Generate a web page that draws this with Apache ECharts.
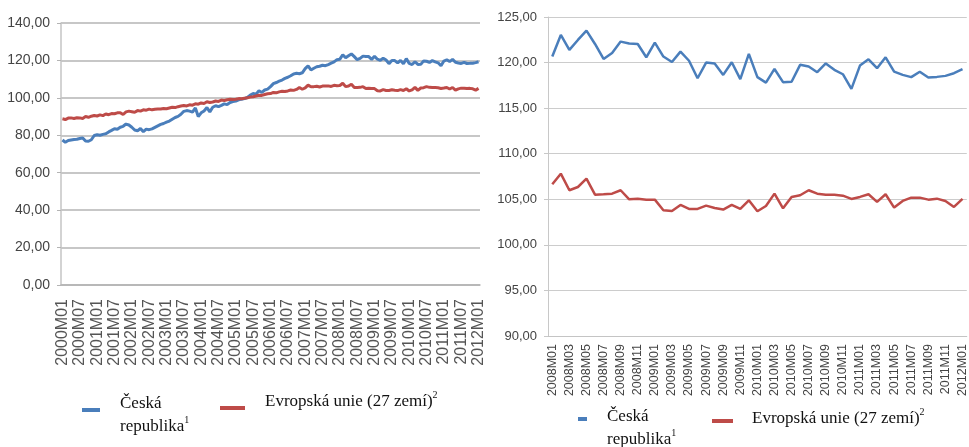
<!DOCTYPE html>
<html>
<head>
<meta charset="utf-8">
<script src="https://cdn.jsdelivr.net/npm/echarts@6/dist/echarts.min.js"></script>
<style>html,body{margin:0;padding:0;background:#fff}#chart{width:969px;height:447px}</style>
</head>
<body>
<div id="chart"></div>
<script>
// levy graf 2000M01-2007M12, pravy graf 2008M01-2012M01
var czEarly = [77.5,76.3,77.2,77.5,77.8,77.9,78.3,78.6,76.9,76.8,77.6,79.9,
  80.3,80.0,80.5,80.8,81.8,82.6,83.5,83.2,84.3,84.8,86.0,85.5,
  84.3,82.8,82.4,83.6,81.9,83.3,83.0,83.4,84.2,85.0,85.8,86.3,
  87.0,87.6,88.6,89.5,90.1,91.2,92.8,93.2,92.9,92.4,94.6,90.0,
  92.0,93.0,94.8,92.5,95.0,95.8,95.3,96.0,96.8,96.4,97.5,98.0,
  98.3,98.9,99.3,99.6,100.2,101.5,102.3,102.0,103.8,102.9,104.2,104.7,
  106.0,107.6,108.2,108.9,109.5,110.4,111.0,111.8,112.8,113.1,112.9,113.4,
  115.6,117.1,114.9,115.8,116.6,116.9,117.4,117.2,117.8,118.5,119.2,120.4];
var euEarly = [88.8,88.4,89.2,89.3,89.0,89.4,89.3,89.0,90.0,89.6,90.2,90.6,
  90.3,90.9,90.5,91.4,91.0,91.6,91.5,92.0,92.1,91.1,92.5,92.9,
  92.6,92.3,93.2,92.9,93.6,93.4,94.0,93.6,93.9,94.1,94.0,94.3,
  94.2,94.6,95.0,94.8,95.3,95.6,95.9,95.7,96.3,96.1,96.8,96.6,
  97.3,97.0,97.9,97.5,97.8,98.3,98.1,98.8,98.6,99.0,99.3,99.1,
  99.3,99.6,99.5,99.8,100.0,100.4,100.6,101.0,101.4,101.3,101.8,102.2,
  102.3,102.9,102.7,103.2,103.5,103.4,103.7,104.2,104.0,104.5,105.5,104.6,
  105.3,106.8,105.9,106.0,106.2,105.8,106.3,106.4,106.4,106.1,106.7,106.5];
var czRecent = [120.66,123.03,121.39,122.48,123.5,122.04,120.4,121.06,122.3,122.1,122.04,120.58,
  122.19,120.66,120.07,121.2,120.2,118.28,120.0,119.9,118.65,120.04,118.18,120.95,
  118.4,117.8,119.3,117.85,117.9,119.75,119.56,118.94,119.9,119.2,118.72,117.12,
  119.67,120.36,119.38,120.58,119.0,118.65,118.4,119.0,118.36,118.43,118.54,118.83,
  119.27];
var euRecent = [106.64,107.81,105.99,106.35,107.26,105.51,105.55,105.62,105.99,105.0,105.07,104.96,
  104.96,103.8,103.72,104.38,103.94,103.94,104.3,104.05,103.87,104.38,103.94,104.89,
  103.69,104.27,105.62,104.01,105.26,105.44,105.99,105.62,105.51,105.51,105.4,105.04,
  105.26,105.55,104.71,105.55,104.09,104.82,105.18,105.18,104.96,105.07,104.82,104.16,
  105.04];
var leftTicks = [0, 140, 20];
var rightTicks = [90, 125, 5];

var months = [];
for (var y = 2000; y <= 2012; y++) {
  for (var m = 1; m <= 12; m++) {
    months.push(y + 'M' + (m < 10 ? '0' + m : m));
    if (y === 2012) break;
  }
}
var monthsRecent = months.slice(96);
var czAll = czEarly.concat(czRecent);
var euAll = euEarly.concat(euRecent);

var blue = '#4a7ebb', red = '#be4b48';
var nameCz = 'Česká republika', nameEu = 'Evropská unie (27 zemí)';
function czech(v) { return v.toFixed(2).replace('.', ','); }

var serifRich = {
  t: { fontFamily: 'Liberation Serif', fontSize: 17, lineHeight: 23, color: '#111' },
  s: { fontFamily: 'Liberation Serif', fontSize: 10, lineHeight: 23, verticalAlign: 'top', padding: [0, 0, 8, 0], color: '#111' }
};
function legendCz(left, top, w, padTop, padLeft) {
  return {
    left: left, top: top, padding: 0, icon: 'rect', itemWidth: w, itemHeight: 4,
    data: [nameCz], selectedMode: false,
    formatter: function () { return '{t|Česká}\n{t|republika}{s|1}'; },
    textStyle: { padding: [padTop, 0, 0, padLeft], rich: serifRich }
  };
}
function legendEu(left, top, w, padBottom, padLeft) {
  return {
    left: left, top: top, padding: 0, icon: 'rect', itemWidth: w, itemHeight: 4,
    data: [nameEu], selectedMode: false,
    formatter: function () { return '{t|Evropská unie (27 zemí)}{s|2}'; },
    textStyle: { padding: [0, 0, padBottom, padLeft], rich: serifRich }
  };
}

var chart = echarts.init(document.getElementById('chart'));
var option = {
  animation: false,
  backgroundColor: '#fff',
  legend: [
    legendCz(82, 395.5, 18, 11, 15),
    legendEu(220, 390.5, 25, 12, 15),
    legendCz(578, 408.5, 9, 19, 15),
    legendEu(712, 407.5, 21, 4, 14)
  ],
  grid: [
    { left: 61, right: 489, top: 23, bottom: 162 },
    { left: 548, right: 1, top: 17, bottom: 111 }
  ],
  xAxis: [
    {
      type: 'category', gridIndex: 0, data: months, boundaryGap: true,
      axisLine: { lineStyle: { color: '#b4b4b4', width: 1.5 } },
      axisTick: { interval: 0, length: 5, lineStyle: { color: '#b4b4b4' } },
      axisLabel: { interval: 5, rotate: 90, margin: 14, fontSize: 16, color: '#555', fontFamily: 'Liberation Sans' }
    },
    {
      type: 'category', gridIndex: 1, data: monthsRecent, boundaryGap: true,
      axisLine: { lineStyle: { color: '#c4c4c4' } },
      axisTick: { interval: 0, length: 5, lineStyle: { color: '#c4c4c4' } },
      axisLabel: { interval: 1, rotate: 90, margin: 8, fontSize: 12.5, color: '#444', fontFamily: 'Liberation Sans' }
    }
  ],
  yAxis: [
    {
      type: 'value', gridIndex: 0, min: leftTicks[0], max: leftTicks[1], interval: leftTicks[2],
      axisLine: { show: true, lineStyle: { color: '#c4c4c4', width: 1.5 } },
      axisTick: { show: true, length: 4, lineStyle: { color: '#b4b4b4' } },
      axisLabel: { formatter: czech, margin: 11, fontSize: 14, color: '#444', fontFamily: 'Liberation Sans' },
      splitLine: { lineStyle: { color: '#b4b4b4', width: 1.5 } }
    },
    {
      type: 'value', gridIndex: 1, min: rightTicks[0], max: rightTicks[1], interval: rightTicks[2],
      axisLine: { show: true, lineStyle: { color: '#c8c8c8' } },
      axisTick: { show: true, length: 4, lineStyle: { color: '#c8c8c8' } },
      axisLabel: { formatter: czech, margin: 11, fontSize: 13, color: '#444', fontFamily: 'Liberation Sans' },
      splitLine: { lineStyle: { color: '#cccccc' } }
    }
  ],
  series: [
    { name: nameCz, type: 'line', xAxisIndex: 0, yAxisIndex: 0, data: czAll, showSymbol: false, color: blue, lineStyle: { width: 3, color: blue } },
    { name: nameEu, type: 'line', xAxisIndex: 0, yAxisIndex: 0, data: euAll, showSymbol: false, color: red, lineStyle: { width: 3, color: red } },
    { name: nameCz, type: 'line', xAxisIndex: 1, yAxisIndex: 1, data: czRecent, showSymbol: false, color: blue, lineStyle: { width: 2.5, color: blue } },
    { name: nameEu, type: 'line', xAxisIndex: 1, yAxisIndex: 1, data: euRecent, showSymbol: false, color: red, lineStyle: { width: 2.5, color: red } }
  ]
};
chart.setOption(option);
</script>
</body>
</html>
